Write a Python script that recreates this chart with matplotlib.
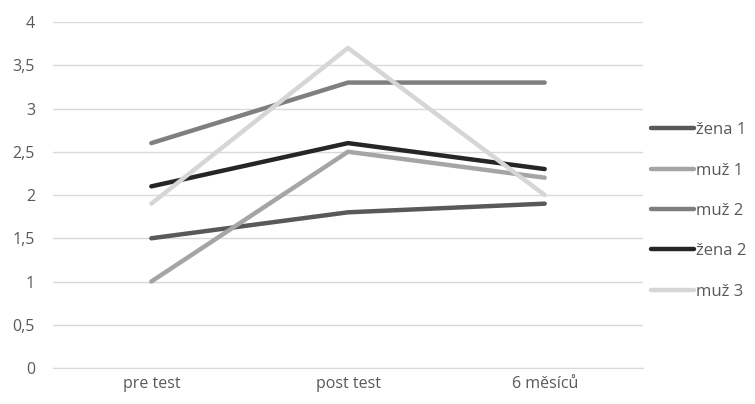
import matplotlib.pyplot as plt
from matplotlib.ticker import FuncFormatter

plt.rcParams['font.family'] = ['Open Sans', 'DejaVu Sans']

categories = ['pre test', 'post test', '6 měsíců']
zena1 = [1.5, 1.8, 1.9]
muz1 = [1.0, 2.5, 2.2]
muz2 = [2.6, 3.3, 3.3]
zena2 = [2.1, 2.6, 2.3]
muz3 = [1.9, 3.7, 2.0]

series = [('žena 1', zena1, '#595959'),
          ('muž 1', muz1, '#a5a5a5'),
          ('muž 2', muz2, '#7f7f7f'),
          ('žena 2', zena2, '#262626'),
          ('muž 3', muz3, '#d6d6d6')]

fig = plt.figure(figsize=(7.55, 4.04), dpi=100)
ax = fig.add_axes([0.0702, 0.0891, 0.7815, 0.8564])

x = range(len(categories))
for name, vals, col in series:
    ax.plot(x, vals, color=col, lw=3.2, label=name, solid_capstyle='round')

ax.set_xlim(-0.5, 2.5)
ax.set_ylim(0, 4)
ax.set_yticks([i * 0.5 for i in range(9)])
ax.yaxis.set_major_formatter(FuncFormatter(lambda v, p: ('%g' % v).replace('.', ',')))
ax.set_xticks(list(x))
ax.set_xticklabels(categories)
ax.grid(axis='y', color='#d9d9d9', lw=1)
ax.set_axisbelow(True)
for s in ['top', 'right', 'left']:
    ax.spines[s].set_visible(False)
ax.spines['bottom'].set_color('#d9d9d9')
ax.tick_params(length=0, labelsize=11.5, colors='#595959')
ax.tick_params(axis='y', pad=13)
ax.tick_params(axis='x', pad=6)

ax.legend(loc='center left', bbox_to_anchor=(0.862, 0.478), bbox_transform=fig.transFigure,
          frameon=False, fontsize=12, labelspacing=1.46, handlelength=2.6,
          handletextpad=0.12, labelcolor='#595959', borderaxespad=0, borderpad=0)

fig.savefig('out.png')
